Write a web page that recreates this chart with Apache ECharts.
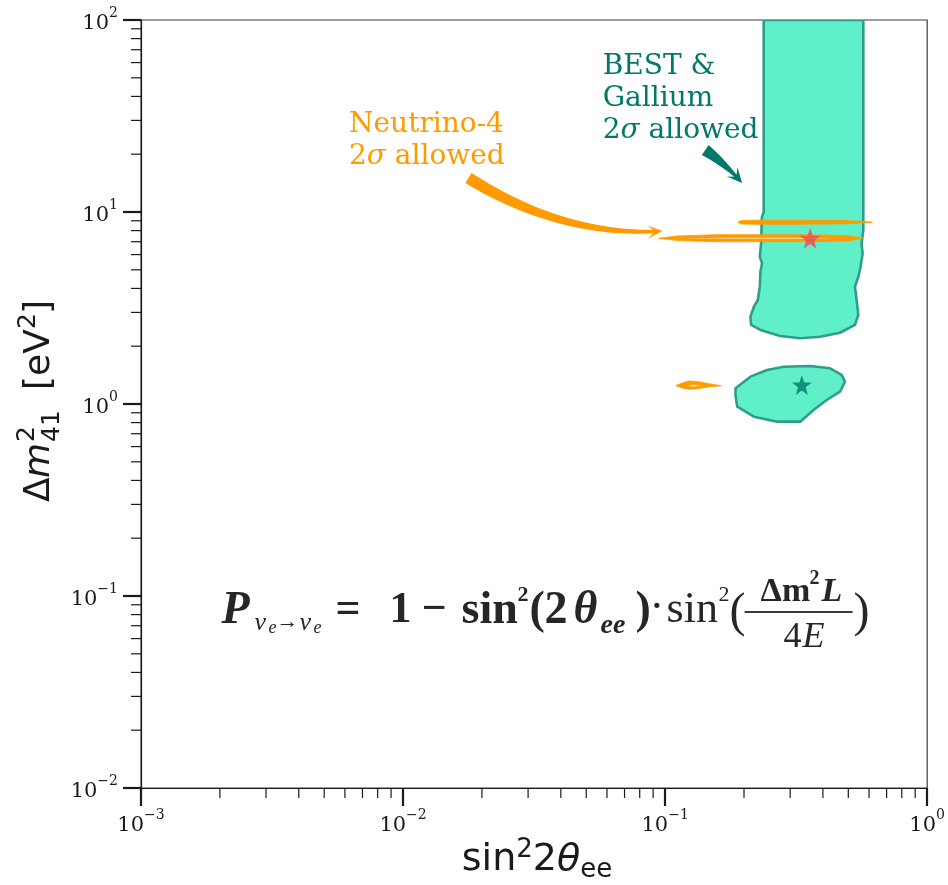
<!DOCTYPE html>
<html>
<head>
<meta charset="utf-8">
<script src="https://cdn.jsdelivr.net/npm/echarts@6/dist/echarts.min.js"></script>
<style>
html, body { margin: 0; padding: 0; background: #fff; }
#chart { width: 948px; height: 885px; }
</style>
</head>
<body>
<div id="chart"></div>
<script>
// ---- allowed regions in the (sin^2 2θ_ee, Δm^2_41 [eV^2]) plane ----
const bestGalliumBand = [
  [0.2378, 100], [0.2378, 10.0], [0.2340, 9.4], [0.2324, 6.89], [0.2298, 5.85],
  [0.2344, 5.42], [0.2310, 4.89], [0.2298, 4.08], [0.2258, 3.48], [0.2181, 3.21],
  [0.2116, 2.85], [0.2129, 2.58], [0.2310, 2.43], [0.2751, 2.26], [0.3277, 2.20],
  [0.3902, 2.24], [0.4649, 2.35], [0.5300, 2.58], [0.5460, 2.91], [0.5379, 3.48],
  [0.5300, 4.08], [0.5460, 4.60], [0.5569, 5.19], [0.5671, 6.09], [0.5620, 6.87],
  [0.5705, 8.06], [0.5705, 100]
];
const bestGalliumIsland = [
  [0.1856, 1.207], [0.2116, 1.388], [0.2448, 1.503], [0.2834, 1.564], [0.3575, 1.577],
  [0.4259, 1.534], [0.4718, 1.416], [0.4857, 1.306], [0.4649, 1.159], [0.4138, 1.049],
  [0.3683, 0.931], [0.3277, 0.809], [0.2673, 0.809], [0.2181, 0.859], [0.1884, 0.968],
  [0.1856, 1.114]
];
const neutrino4Upper = [
  [0.1895, 8.84], [0.1950, 9.03], [0.2243, 9.07], [0.3184, 9.07], [0.4930, 9.03],
  [0.5800, 8.92], [0.6188, 8.84], [0.5800, 8.78], [0.4930, 8.68], [0.3184, 8.63],
  [0.2243, 8.63], [0.1950, 8.66]
];
const neutrino4Lower = [
  [0.0941, 7.29], [0.1115, 7.50], [0.1581, 7.62], [0.3184, 7.62], [0.4930, 7.55],
  [0.5705, 7.32], [0.4930, 7.05], [0.3184, 7.00], [0.1581, 7.00], [0.1115, 7.10]
];
const neutrino4LowerInner = [
  [0.112, 7.30], [0.18, 7.35], [0.33, 7.35], [0.44, 7.31], [0.33, 7.26], [0.18, 7.26]
];
const neutrino4Small = [
  [0.1098, 1.245], [0.1165, 1.290], [0.1230, 1.318], [0.1327, 1.310], [0.1449, 1.280],
  [0.1638, 1.245], [0.1449, 1.225], [0.1327, 1.200], [0.1230, 1.193], [0.1165, 1.210]
];
const neutrino4SmallInner = [
  [0.1216, 1.245], [0.1280, 1.262], [0.1387, 1.245], [0.1280, 1.230]
];
const neutrino4BestFit = [[0.3575, 7.29]];
const galliumBestFit = [[0.3324, 1.256]];

// annotation arrows: tail, bend control point, tip
const neutrino4Arrow = [[0.01776, 15.03], [0.0413, 7.36], [0.0977, 7.96]];
const galliumArrow = [[0.1423, 21.03], [0.1696, 17.78], [0.1968, 14.16]];

// annotation anchors (left edge / centre of first line)
const neutrino4LabelAt = [[0.00622, 28.4]];
const galliumLabelAt = [[0.0578, 56.9]];
const formulaAt = [[0.00203, 0.0836]];

const neutrino4Lines = ['Neutrino-4', '2{i|σ} allowed'];
const galliumLines = ['BEST &', 'Gallium', '2{i|σ} allowed'];

// axis ranges and ticks
const xRange = [0.001, 1];
const yRange = [0.01, 100];
const minorMultiples = [2, 3, 4, 5, 6, 7, 8, 9];

const TEAL_FILL = '#5ff0ca';
const TEAL_EDGE = '#2f9d89';
const TEAL_TEXT = '#00786a';
const ORANGE = '#ff9a00';
const INK = '#1a1a1a';

const chart = echarts.init(document.getElementById('chart'), null, { renderer: 'canvas' });

function supLabel(v) {
  const e = Math.round(Math.log10(v));
  return '{b|10}{s|' + (e < 0 ? '\u2212' + (-e) : e) + '}';
}
const tickRich = {
  b: { fontFamily: 'DejaVu Serif', fontSize: 21, color: INK, lineHeight: 28, verticalAlign: 'bottom' },
  s: { fontFamily: 'DejaVu Serif', fontSize: 14, color: INK, lineHeight: 15, verticalAlign: 'top' }
};

function polygonSeries(points, fill, stroke, lineWidth, z) {
  return {
    type: 'custom', coordinateSystem: 'cartesian2d', data: points, encode: { x: 0, y: 1 },
    silent: true, clip: true, z: z, animation: false,
    renderItem: function (params, api) {
      if (params.dataIndex !== 0) return null;
      const pts = points.map(p => api.coord(p));
      return {
        type: 'polygon', shape: { points: pts },
        style: { fill: fill, stroke: stroke, lineWidth: lineWidth, lineJoin: 'round' }
      };
    }
  };
}

// tapered curved arrow along a quadratic Bezier (geometry in pixels after projection)
function arrowSeries(ctrl, color, w0, w1, headLen, headHalf, z) {
  return {
    type: 'custom', coordinateSystem: 'cartesian2d', data: ctrl, encode: { x: 0, y: 1 },
    silent: true, clip: false, z: z, animation: false,
    renderItem: function (params, api) {
      if (params.dataIndex !== 0) return null;
      const P = ctrl.map(p => api.coord(p));
      const B = t => [
        (1 - t) * (1 - t) * P[0][0] + 2 * (1 - t) * t * P[1][0] + t * t * P[2][0],
        (1 - t) * (1 - t) * P[0][1] + 2 * (1 - t) * t * P[1][1] + t * t * P[2][1]
      ];
      const D = t => [
        2 * (1 - t) * (P[1][0] - P[0][0]) + 2 * t * (P[2][0] - P[1][0]),
        2 * (1 - t) * (P[1][1] - P[0][1]) + 2 * t * (P[2][1] - P[1][1])
      ];
      let len = 0, prev = B(0);
      for (let i = 1; i <= 40; i++) { const q = B(i / 40); len += Math.hypot(q[0] - prev[0], q[1] - prev[1]); prev = q; }
      const tEnd = 1 - (headLen * 0.75) / len;
      const N = 30, left = [], right = [];
      for (let i = 0; i <= N; i++) {
        const t = tEnd * i / N;
        const b = B(t), d = D(t), m = Math.hypot(d[0], d[1]);
        const n = [-d[1] / m, d[0] / m];
        const w = (w0 + (w1 - w0) * i / N) / 2;
        left.push([b[0] + n[0] * w, b[1] + n[1] * w]);
        right.push([b[0] - n[0] * w, b[1] - n[1] * w]);
      }
      const tip = P[2];
      const d1 = D(1), m1 = Math.hypot(d1[0], d1[1]);
      const u = [d1[0] / m1, d1[1] / m1], n1 = [-u[1], u[0]];
      const base = [tip[0] - u[0] * headLen, tip[1] - u[1] * headLen];
      const barbA = [base[0] + n1[0] * headHalf - u[0] * 2, base[1] + n1[1] * headHalf - u[1] * 2];
      const barbB = [base[0] - n1[0] * headHalf - u[0] * 2, base[1] - n1[1] * headHalf - u[1] * 2];
      const pts = left.concat([barbA, tip, barbB], right.reverse());
      return { type: 'polygon', shape: { points: pts }, style: { fill: color } };
    }
  };
}

function labelSeries(anchor, lines, color, z) {
  return {
    type: 'custom', coordinateSystem: 'cartesian2d', data: anchor, encode: { x: 0, y: 1 },
    silent: true, clip: false, z: z, animation: false,
    renderItem: function (params, api) {
      const c = api.coord([api.value(0), api.value(1)]);
      return {
        type: 'text', x: c[0], y: c[1] - 16,
        style: {
          text: lines.join('\n'), fill: color, font: '28px "DejaVu Serif"',
          lineHeight: 32, align: 'left', verticalAlign: 'top',
          rich: { i: { fontFamily: 'DejaVu Serif', fontStyle: 'italic', fontSize: 28, fill: color, lineHeight: 32 } }
        }
      };
    }
  };
}

// survival probability formula, pieces placed relative to its anchor
function formulaSeries(anchor, z) {
  const SER = '"Liberation Serif"';
  const pieces = [
    ['P', 0, 0, 'italic bold 46px ' + SER],
    ['\u03bd', 33, 12, 'italic 26px ' + SER],
    ['e', 47, 17, 'italic 18px ' + SER],
    ['\u2192', 55, 11, '22px ' + SER],
    ['\u03bd', 78, 12, 'italic 26px ' + SER],
    ['e', 92, 17, 'italic 18px ' + SER],
    ['=', 114, 0, 'bold 44px ' + SER],
    ['1', 168, 0, 'bold 44px ' + SER],
    ['\u2212', 200, 0, 'bold 44px ' + SER],
    ['sin', 240, 0, 'bold 46px ' + SER],
    ['2', 296, -16, 'bold 22px ' + SER],
    ['(', 308, 0, 'bold 46px ' + SER],
    ['2', 323, 0, 'bold 46px ' + SER],
    ['\u03b8', 352, 0, 'italic bold 46px ' + SER],
    ['ee', 379, 15, 'italic bold 28px ' + SER],
    [')', 414, 0, 'bold 46px ' + SER],
    ['\u00b7', 428, -2, '44px ' + SER],
    ['sin', 445, 0, '44px ' + SER],
    ['2', 497, -16, '22px ' + SER],
    ['(', 508, 2, '48px ' + SER],
    ['\u0394m', 539, -19, 'bold 34px ' + SER],
    ['2', 588, -32, 'bold 20px ' + SER],
    ['L', 600, -19, 'italic bold 34px ' + SER],
    ['4', 562, 27, '36px ' + SER],
    ['E', 581, 27, 'italic 36px ' + SER],
    [')', 632, 2, '48px ' + SER]
  ];
  return {
    type: 'custom', coordinateSystem: 'cartesian2d', data: anchor, encode: { x: 0, y: 1 },
    silent: true, clip: false, z: z, animation: false,
    renderItem: function (params, api) {
      const c = api.coord([api.value(0), api.value(1)]);
      const children = pieces.map(p => ({
        type: 'text', x: p[1], y: p[2],
        style: { text: p[0], font: p[3], fill: '#262626', align: 'left', verticalAlign: 'middle' }
      }));
      children.push({
        type: 'line', shape: { x1: 523, y1: 1, x2: 631, y2: 1 },
        style: { stroke: '#3a3a3a', lineWidth: 2 }
      });
      return { type: 'group', x: c[0], y: c[1], children: children };
    }
  };
}

// minor ticks at 2..9 × 10^k on both log axes
function minorTickSeries() {
  return {
    type: 'custom', coordinateSystem: 'cartesian2d', data: [[xRange[0], yRange[0]]], encode: { x: 0, y: 1 },
    silent: true, clip: false, z: 20, animation: false,
    renderItem: function (params, api) {
      const kids = [];
      for (let k = Math.log10(xRange[0]); k < Math.log10(xRange[1]); k++) {
        minorMultiples.forEach(m => {
          const p = api.coord([m * Math.pow(10, k), yRange[0]]);
          kids.push({ type: 'line', shape: { x1: p[0], y1: p[1], x2: p[0], y2: p[1] + 10 }, style: { stroke: INK, lineWidth: 1.2 } });
        });
      }
      for (let k = Math.log10(yRange[0]); k < Math.log10(yRange[1]); k++) {
        minorMultiples.forEach(m => {
          const p = api.coord([xRange[0], m * Math.pow(10, k)]);
          kids.push({ type: 'line', shape: { x1: p[0] - 10, y1: p[1], x2: p[0], y2: p[1] }, style: { stroke: INK, lineWidth: 1.2 } });
        });
      }
      return { type: 'group', children: kids };
    }
  };
}

const option = {
  animation: false,
  backgroundColor: '#ffffff',
  grid: { left: 141, right: 17, top: 20, bottom: 97, show: true, borderColor: '#3c3c3c', borderWidth: 1.2, backgroundColor: 'transparent' },
  xAxis: {
    type: 'log', logBase: 10, min: xRange[0], max: xRange[1], splitNumber: 3,
    axisLine: { show: true, onZero: false, lineStyle: { color: INK, width: 1.2 } },
    axisTick: { show: true, length: 18, lineStyle: { color: INK, width: 2.2 } },
    minorTick: { show: false }, splitLine: { show: false },
    axisLabel: { margin: 20, formatter: supLabel, rich: tickRich }
  },
  yAxis: {
    type: 'log', logBase: 10, min: yRange[0], max: yRange[1], splitNumber: 4,
    axisLine: { show: true, onZero: false, lineStyle: { color: INK, width: 1.2 } },
    axisTick: { show: true, length: 18, lineStyle: { color: INK, width: 2.2 } },
    minorTick: { show: false }, splitLine: { show: false },
    axisLabel: { margin: 23, formatter: supLabel, rich: tickRich }
  },
  graphic: [
    {
      type: 'group', x: 40, y: 396, rotation: Math.PI / 2,
      children: [
        { type: 'text', x: -106, y: 0, style: { text: '\u0394', font: '36px "DejaVu Sans"', fill: INK, align: 'left', verticalAlign: 'middle' } },
        { type: 'text', x: -82, y: 0, style: { text: 'm', font: 'italic 36px "DejaVu Sans"', fill: INK, align: 'left', verticalAlign: 'middle' } },
        { type: 'text', x: -46, y: -13, style: { text: '2', font: '25px "DejaVu Sans"', fill: INK, align: 'left', verticalAlign: 'middle' } },
        { type: 'text', x: -46, y: 12, style: { text: '41', font: '25px "DejaVu Sans"', fill: INK, align: 'left', verticalAlign: 'middle' } },
        { type: 'text', x: 6, y: 0, style: { text: '[eV', font: '36px "DejaVu Sans"', fill: INK, align: 'left', verticalAlign: 'middle' } },
        { type: 'text', x: 67, y: -12, style: { text: '2', font: '25px "DejaVu Sans"', fill: INK, align: 'left', verticalAlign: 'middle' } },
        { type: 'text', x: 82, y: 0, style: { text: ']', font: '36px "DejaVu Sans"', fill: INK, align: 'left', verticalAlign: 'middle' } }
      ]
    },
    {
      type: 'text', x: 537, y: 860,
      style: {
        text: '{n|sin}{sup|2}{n|2}{i|\u03b8}{sub|ee}', align: 'center', verticalAlign: 'middle',
        rich: {
          n: { fontFamily: 'DejaVu Sans', fontSize: 38, fill: INK, lineHeight: 46, verticalAlign: 'middle' },
          i: { fontFamily: 'DejaVu Sans', fontStyle: 'italic', fontSize: 38, fill: INK, lineHeight: 46, verticalAlign: 'middle' },
          sup: { fontFamily: 'DejaVu Sans', fontSize: 26, fill: INK, lineHeight: 26, verticalAlign: 'top' },
          sub: { fontFamily: 'DejaVu Sans', fontSize: 26, fill: INK, lineHeight: 24, verticalAlign: 'bottom' }
        }
      }
    }
  ],
  series: [
    polygonSeries(bestGalliumBand, TEAL_FILL, TEAL_EDGE, 2.6, 2),
    polygonSeries(bestGalliumIsland, TEAL_FILL, TEAL_EDGE, 2.6, 2),
    polygonSeries(neutrino4Upper, ORANGE, ORANGE, 0.8, 3),
    polygonSeries(neutrino4Lower, ORANGE, ORANGE, 0.8, 3),
    polygonSeries(neutrino4LowerInner, '#ffe2b8', null, 0, 4),
    polygonSeries(neutrino4Small, ORANGE, ORANGE, 0.8, 3),
    polygonSeries(neutrino4SmallInner, '#ffe2b8', null, 0, 4),
    {
      type: 'scatter', data: neutrino4BestFit, z: 6, silent: true,
      symbol: 'path://M50,0 L61.8,35.1 L98.9,35.5 L69.1,57.6 L79.4,93.3 L50,72 L20.6,93.3 L30.9,57.6 L1.1,35.5 L38.2,35.1 Z',
      symbolSize: 21, itemStyle: { color: '#f5474f' }
    },
    {
      type: 'scatter', data: galliumBestFit, z: 6, silent: true,
      symbol: 'path://M50,0 L61.8,35.1 L98.9,35.5 L69.1,57.6 L79.4,93.3 L50,72 L20.6,93.3 L30.9,57.6 L1.1,35.5 L38.2,35.1 Z',
      symbolSize: 20, itemStyle: { color: '#00786a' }
    },
    arrowSeries(neutrino4Arrow, ORANGE, 12, 3.5, 13, 6.5, 7),
    arrowSeries(galliumArrow, TEAL_TEXT, 12, 3, 13, 7, 7),
    labelSeries(neutrino4LabelAt, neutrino4Lines, ORANGE, 8),
    labelSeries(galliumLabelAt, galliumLines, TEAL_TEXT, 8),
    formulaSeries(formulaAt, 8),
    minorTickSeries()
  ]
};
chart.setOption(option);
</script>
</body>
</html>
